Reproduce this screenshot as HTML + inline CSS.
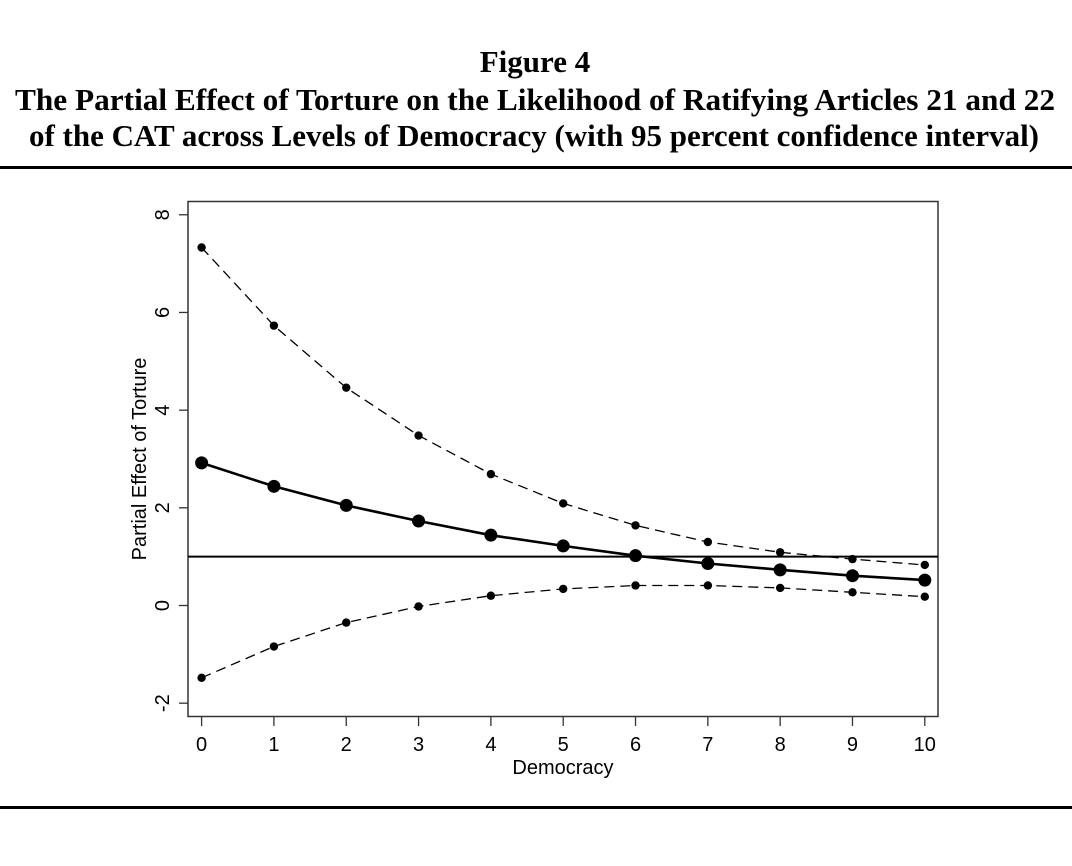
<!DOCTYPE html>
<html><head><meta charset="utf-8"><style>
html,body{margin:0;padding:0;background:#fff;}
svg{display:block;}
</style></head><body>
<svg id="chart" width="1072" height="866" viewBox="0 0 1072 866" xmlns="http://www.w3.org/2000/svg">
<g font-family="'Liberation Serif', serif" font-weight="bold" fill="#000" text-anchor="middle">
<text x="535" y="72" font-size="31">Figure 4</text>
<text x="535" y="110" font-size="31" textLength="1040" lengthAdjust="spacingAndGlyphs">The Partial Effect of Torture on the Likelihood of Ratifying Articles 21 and 22</text>
<text x="534" y="146" font-size="31" textLength="1010" lengthAdjust="spacingAndGlyphs">of the CAT across Levels of Democracy (with 95 percent confidence interval)</text>
</g>
<rect x="0" y="166" width="1072" height="3" fill="#000"/>
<rect x="0" y="806" width="1072" height="3" fill="#000"/>
<rect x="188" y="201.5" width="750" height="515" fill="none" stroke="#333" stroke-width="1.5"/>
<g id="axes"></g>
<g id="marks"></g>
<text x="563" y="774" font-family="'Liberation Sans', sans-serif" font-size="20" text-anchor="middle">Democracy</text>
<text transform="translate(146,459) rotate(-90)" font-family="'Liberation Sans', sans-serif" font-size="20" text-anchor="middle">Partial Effect of Torture</text>
</svg>
<script>
const democracy = [0,1,2,3,4,5,6,7,8,9,10];
const effect = [2.92,2.44,2.05,1.73,1.44,1.22,1.02,0.86,0.73,0.61,0.52];
const upper = [7.33,5.73,4.46,3.48,2.69,2.09,1.64,1.30,1.09,0.95,0.83];
const lower = [-1.48,-0.84,-0.35,-0.02,0.20,0.34,0.41,0.41,0.36,0.27,0.18];
const yTicks = [-2,0,2,4,6,8];
const xTicks = [0,1,2,3,4,5,6,7,8,9,10];
const refLine = 1;

const NS = 'http://www.w3.org/2000/svg';
function sx(v){ return 201.6 + v * 72.32; }
function sy(v){ return 605.5 - v * 48.84; }
function mk(tag, attrs, parent){
  const e = document.createElementNS(NS, tag);
  for (const k in attrs) e.setAttribute(k, attrs[k]);
  parent.appendChild(e);
  return e;
}
const axes = document.getElementById('axes');
const marks = document.getElementById('marks');
xTicks.forEach(t => {
  const l = mk('line', {x1:sx(t), x2:sx(t), y1:717, y2:726, stroke:'#333', 'stroke-width':1.3}, axes);
  
  
  const tx = mk('text', {x:sx(t), y:751, 'font-family':"'Liberation Sans', sans-serif", 'font-size':20, 'text-anchor':'middle'}, axes);
  tx.textContent = t;
  
  
});
yTicks.forEach(t => {
  const l = mk('line', {x1:179, x2:188, y1:sy(t), y2:sy(t), stroke:'#333', 'stroke-width':1.3}, axes);
  
  
  const tx = mk('text', {transform:'translate(169,'+sy(t)+') rotate(-90)', 'font-family':"'Liberation Sans', sans-serif", 'font-size':20, 'text-anchor':'middle'}, axes);
  tx.textContent = t;
  
  
});
const ref = mk('line', {x1:188, x2:938, y1:sy(refLine), y2:sy(refLine), stroke:'#000', 'stroke-width':2}, marks);



function series(vals, name, width, dash, r){
  const pts = democracy.map((d,i) => sx(d).toFixed(1)+','+sy(vals[i]).toFixed(1)).join(' ');
  const attrs = {points:pts, fill:'none', stroke:'#000', 'stroke-width':width};
  if (dash) attrs['stroke-dasharray'] = dash;
  const pl = mk('polyline', attrs, marks);
  
  
  democracy.forEach((d,i) => {
    const c = mk('circle', {cx:sx(d), cy:sy(vals[i]), r:r, fill:'#000'}, marks);
    
    
  });
}
series(upper, 'upper-ci', 1.3, '10,6', 4.2);
series(lower, 'lower-ci', 1.3, '10,6', 4.2);
series(effect, 'partial-effect', 2.6, null, 6.5);
</script>
</body></html>
